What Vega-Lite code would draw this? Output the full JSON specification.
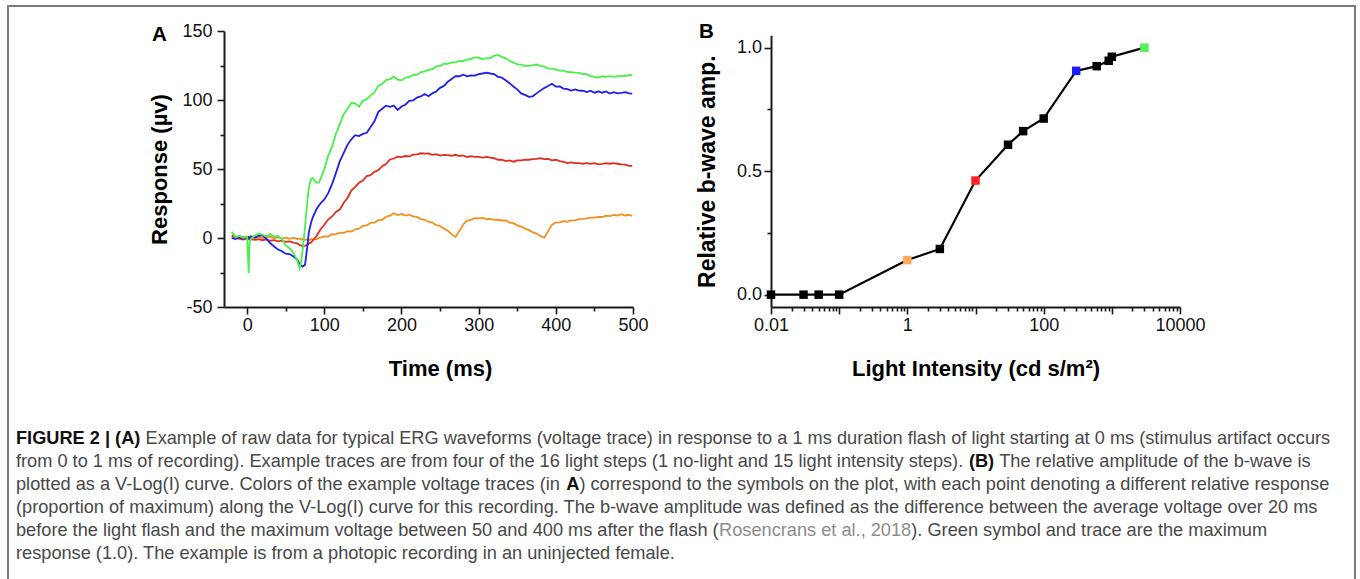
{
  "$schema": "https://vega.github.io/schema/vega-lite/v6.json",
  "width": 1347,
  "height": 600,
  "autosize": {"type": "none"},
  "padding": {"left": 8, "top": 6, "right": 5, "bottom": 0},
  "background": "white",
  "config": {
    "font": "Liberation Sans",
    "view": {"stroke": "#7a7a7a", "strokeWidth": 2},
    "axis": {"grid": false, "domainColor": "#1a1a1a", "domainWidth": 2, "tickColor": "#1a1a1a", "tickWidth": 1.6, "labelFont": "Liberation Sans", "labelFontSize": 18, "labelColor": "#111111", "titleFont": "Liberation Sans", "titleFontSize": 22, "titleFontWeight": "bold", "titleColor": "#000000", "labelFlush": false, "labelOverlap": false}
  },
  "layer": [
    {
      "data": {"values": [
        {"t":-20,"o":2.0,"r":1.5,"b":0.0,"g":4.5},
        {"t":-15,"o":1.2,"r":0.3,"b":-0.8,"g":0.5},
        {"t":-10,"o":0.4,"r":-0.6,"b":0.6,"g":1.6},
        {"t":-5,"o":0.9,"r":-1.2,"b":-0.4,"g":0.2},
        {"t":0,"o":0.3,"r":-0.4,"b":0.6,"g":0.8},
        {"t":1,"o":-0.2,"r":-1.0,"b":0.1,"g":-12},
        {"t":2,"o":0.5,"r":-0.6,"b":0.7,"g":-25.5},
        {"t":3,"o":0.1,"r":-1.1,"b":0.0,"g":-4},
        {"t":5,"o":0.6,"r":-0.8,"b":1.2,"g":-0.5},
        {"t":10,"o":-0.3,"r":-1.4,"b":0.4,"g":1.8},
        {"t":15,"o":0.8,"r":-0.9,"b":1.6,"g":3.2},
        {"t":20,"o":0.0,"r":-1.6,"b":1.9,"g":2.2},
        {"t":25,"o":0.4,"r":-1.0,"b":-0.6,"g":1.2},
        {"t":30,"o":0.9,"r":-2.0,"b":-3.8,"g":2.8},
        {"t":35,"o":-0.2,"r":-1.5,"b":-6.2,"g":1.0},
        {"t":40,"o":0.5,"r":-2.4,"b":-8.4,"g":1.5},
        {"t":45,"o":-0.4,"r":-1.9,"b":-9.6,"g":-0.8},
        {"t":50,"o":0.3,"r":-2.8,"b":-11.4,"g":-5.2},
        {"t":55,"o":-0.6,"r":-2.4,"b":-11.6,"g":-7.6},
        {"t":60,"o":0.2,"r":-3.4,"b":-13.4,"g":-10.8},
        {"t":65,"o":-0.7,"r":-3.8,"b":-15.6,"g":-16.4},
        {"t":68,"o":-0.3,"r":-5.2,"b":-19.2,"g":-22},
        {"t":70,"o":-1.2,"r":-5.4,"b":-20.2,"g":-17},
        {"t":72,"o":-0.8,"r":-6.2,"b":-20.8,"g":-8},
        {"t":75,"o":-1.4,"r":-5.6,"b":-19.4,"g":8},
        {"t":78,"o":-0.9,"r":-4.8,"b":-6,"g":27},
        {"t":80,"o":-1.6,"r":-4.0,"b":4.5,"g":37},
        {"t":83,"o":-0.8,"r":-3.2,"b":11.5,"g":43},
        {"t":85,"o":-1.3,"r":-1.8,"b":15,"g":43.5},
        {"t":88,"o":-0.7,"r":0.2,"b":18.5,"g":41.2},
        {"t":90,"o":-1.0,"r":1.6,"b":21,"g":40},
        {"t":93,"o":0.2,"r":4.4,"b":23.5,"g":40.3},
        {"t":95,"o":0.3,"r":6.2,"b":25,"g":42.8},
        {"t":100,"o":1.2,"r":9.6,"b":28,"g":50},
        {"t":105,"o":1.0,"r":13.4,"b":32.5,"g":59.5},
        {"t":110,"o":2.8,"r":15.6,"b":39,"g":66},
        {"t":115,"o":2.6,"r":18.9,"b":47,"g":75.5},
        {"t":120,"o":3.9,"r":20.6,"b":55.5,"g":82.5},
        {"t":125,"o":3.6,"r":25.4,"b":61.5,"g":89.5},
        {"t":130,"o":4.9,"r":29.0,"b":67.5,"g":93.5},
        {"t":135,"o":4.7,"r":34.4,"b":71.5,"g":97.8},
        {"t":140,"o":6.3,"r":37.1,"b":74.5,"g":97.6},
        {"t":145,"o":6.8,"r":40.0,"b":73.8,"g":95.2},
        {"t":150,"o":8.8,"r":41.6,"b":75.4,"g":99.4},
        {"t":155,"o":9.2,"r":44.9,"b":76.2,"g":100.6},
        {"t":160,"o":10.9,"r":45.6,"b":80.4,"g":103.4},
        {"t":165,"o":11.2,"r":48.0,"b":84.6,"g":105.6},
        {"t":170,"o":12.9,"r":49.1,"b":91.4,"g":110.4},
        {"t":175,"o":13.2,"r":52.0,"b":93.6,"g":111.6},
        {"t":180,"o":15.4,"r":53.6,"b":95.9,"g":114.4},
        {"t":185,"o":16.2,"r":56.9,"b":95.1,"g":115.1},
        {"t":190,"o":17.9,"r":57.6,"b":96.0,"g":116.9},
        {"t":195,"o":16.6,"r":58.9,"b":92.8,"g":114.8},
        {"t":200,"o":17.4,"r":58.6,"b":95.3,"g":114.2},
        {"t":205,"o":16.2,"r":59.4,"b":96.6,"g":116.3},
        {"t":210,"o":16.9,"r":59.1,"b":99.3,"g":116.7},
        {"t":215,"o":15.7,"r":60.4,"b":99.7,"g":118.3},
        {"t":220,"o":15.3,"r":60.6,"b":101.8,"g":118.2},
        {"t":225,"o":13.7,"r":61.4,"b":102.6,"g":120.3},
        {"t":230,"o":13.2,"r":61.1,"b":104.3,"g":120.7},
        {"t":235,"o":11.8,"r":61.3,"b":102.7,"g":121.8},
        {"t":240,"o":11.2,"r":60.2,"b":104.8,"g":122.3},
        {"t":245,"o":9.3,"r":60.8,"b":106.2,"g":124.3},
        {"t":250,"o":8.7,"r":59.7,"b":108.8,"g":124.7},
        {"t":255,"o":6.8,"r":60.3,"b":110.2,"g":126.3},
        {"t":260,"o":5.2,"r":60.1,"b":113.3,"g":126.2},
        {"t":265,"o":2.8,"r":59.6,"b":115.2,"g":127.3},
        {"t":270,"o":0.8,"r":60.3,"b":117.3,"g":127.2},
        {"t":275,"o":5.0,"r":59.3,"b":117.2,"g":128.3},
        {"t":280,"o":9.8,"r":59.8,"b":118.3,"g":128.2},
        {"t":285,"o":12.6,"r":58.7,"b":117.2,"g":129.3},
        {"t":290,"o":13.2,"r":59.3,"b":117.8,"g":129.7},
        {"t":295,"o":14.3,"r":58.8,"b":117.7,"g":130.8},
        {"t":300,"o":14.2,"r":58.8,"b":118.8,"g":130.7},
        {"t":305,"o":14.8,"r":58.2,"b":119.2,"g":129.7},
        {"t":310,"o":13.7,"r":58.8,"b":119.8,"g":130.3},
        {"t":315,"o":13.8,"r":58.2,"b":119.2,"g":130.2},
        {"t":320,"o":13.2,"r":57.8,"b":118.8,"g":132.2},
        {"t":325,"o":13.3,"r":56.7,"b":116.8,"g":132.6},
        {"t":330,"o":12.7,"r":56.8,"b":116.2,"g":131.3},
        {"t":335,"o":12.8,"r":55.7,"b":114.3,"g":130.2},
        {"t":340,"o":11.2,"r":56.2,"b":112.2,"g":128.3},
        {"t":345,"o":10.8,"r":55.3,"b":109.8,"g":127.2},
        {"t":350,"o":9.2,"r":56.3,"b":107.7,"g":125.8},
        {"t":355,"o":8.3,"r":56.2,"b":104.8,"g":125.7},
        {"t":360,"o":6.8,"r":56.8,"b":103.7,"g":124.8},
        {"t":365,"o":5.7,"r":56.7,"b":102.3,"g":124.7},
        {"t":370,"o":4.2,"r":57.2,"b":102.7,"g":125.2},
        {"t":375,"o":3.2,"r":57.3,"b":104.8,"g":125.7},
        {"t":380,"o":1.3,"r":57.8,"b":106.8,"g":124.8},
        {"t":385,"o":0.2,"r":57.2,"b":108.7,"g":124.2},
        {"t":390,"o":4.8,"r":57.3,"b":110.2,"g":122.8},
        {"t":395,"o":9.7,"r":56.3,"b":111.8,"g":122.7},
        {"t":400,"o":11.2,"r":56.7,"b":109.7,"g":122.2},
        {"t":405,"o":11.3,"r":55.7,"b":109.8,"g":121.3},
        {"t":410,"o":12.2,"r":55.2,"b":108.3,"g":121.2},
        {"t":415,"o":11.8,"r":54.3,"b":107.8,"g":120.3},
        {"t":420,"o":12.7,"r":54.8,"b":106.8,"g":120.2},
        {"t":425,"o":12.8,"r":54.2,"b":107.7,"g":119.8},
        {"t":430,"o":13.7,"r":54.3,"b":106.8,"g":119.7},
        {"t":435,"o":13.8,"r":53.8,"b":106.7,"g":118.8},
        {"t":440,"o":14.2,"r":54.2,"b":105.8,"g":118.7},
        {"t":445,"o":14.7,"r":53.7,"b":106.7,"g":117.3},
        {"t":450,"o":14.8,"r":54.3,"b":105.3,"g":116.7},
        {"t":455,"o":15.3,"r":53.3,"b":106.2,"g":116.3},
        {"t":460,"o":15.2,"r":53.7,"b":105.3,"g":117.2},
        {"t":465,"o":16.2,"r":54.2,"b":106.2,"g":116.8},
        {"t":470,"o":15.8,"r":53.8,"b":104.7,"g":117.3},
        {"t":475,"o":16.7,"r":54.2,"b":105.7,"g":116.8},
        {"t":480,"o":16.3,"r":53.8,"b":104.8,"g":117.2},
        {"t":485,"o":17.2,"r":53.3,"b":105.2,"g":117.7},
        {"t":490,"o":16.3,"r":53.2,"b":105.7,"g":117.3},
        {"t":495,"o":16.8,"r":52.3,"b":104.8,"g":118.2},
        {"t":499,"o":16.0,"r":52.2,"b":104.6,"g":117.9}
      ]},
      "layer": [
        {
          "transform": [{"fold": ["o", "r", "b"], "as": ["trace", "v"]}],
          "mark": {"type": "line", "strokeWidth": 1.8},
          "encoding": {
            "x": {"field": "t", "type": "quantitative", "scale": {"domain": [-30, 500], "range": [216, 625], "nice": false, "zero": false},
                  "axis": {"orient": "bottom", "offset": -299, "values": [0, 100, 200, 300, 400, 500], "tickSize": 7, "labelPadding": 2, "title": "Time (ms)", "titlePadding": 24, "titleX": 432}},
            "y": {"field": "v", "type": "quantitative", "scale": {"domain": [-50, 150], "range": [301, 25], "nice": false, "zero": false},
                  "axis": {"orient": "left", "offset": -216, "values": [-50, 0, 50, 100, 150], "labelExpr": "datum.value < 0 ? '-' + abs(datum.value) : datum.label", "tickSize": 7, "labelPadding": 5, "title": "Response (µv)", "titlePadding": 10}},
            "color": {"field": "trace", "type": "nominal", "scale": {"domain": ["o", "r", "b", "g"], "range": ["#f0901e", "#e02e1e", "#1e1ef0", "#48f048"]}, "legend": null}
          }
        },
        {
          "transform": [{"fold": ["g"], "as": ["trace", "v"]}],
          "mark": {"type": "line", "strokeWidth": 1.8},
          "encoding": {
            "x": {"field": "t", "type": "quantitative", "scale": {"domain": [-30, 500], "range": [216, 625], "nice": false, "zero": false},
                  "axis": {"orient": "bottom", "offset": -299, "values": [50, 150, 250, 350, 450], "tickSize": 4, "labels": false, "domain": false, "title": null}},
            "y": {"field": "v", "type": "quantitative", "scale": {"domain": [-50, 150], "range": [301, 25], "nice": false, "zero": false},
                  "axis": {"orient": "left", "offset": -216, "values": [-25, 25, 75, 125], "tickSize": 4, "labels": false, "domain": false, "title": null}},
            "color": {"field": "trace", "type": "nominal", "scale": {"domain": ["o", "r", "b", "g"], "range": ["#f0901e", "#e02e1e", "#1e1ef0", "#48f048"]}, "legend": null}
          }
        },
        {
          "data": {"values": [{"panel": "A"}]},
          "mark": {"type": "text", "fontSize": 20.5, "fontWeight": "bold", "align": "left", "baseline": "middle", "dx": -72, "dy": 3.5, "color": "#000000"},
          "encoding": {
            "x": {"datum": -30, "type": "quantitative", "scale": {"domain": [-30, 500], "range": [216, 625], "nice": false, "zero": false}, "axis": null},
            "y": {"datum": 150, "type": "quantitative", "scale": {"domain": [-50, 150], "range": [301, 25], "nice": false, "zero": false}, "axis": null},
            "text": {"field": "panel"}
          }
        }
      ],
      "resolve": {"axis": {"x": "independent", "y": "independent"}}
    },
    {
      "data": {"values": [
        {"I": 0.01, "amp": 0, "trace": "none"},
        {"I": 0.03, "amp": 0, "trace": "none"},
        {"I": 0.05, "amp": 0, "trace": "none"},
        {"I": 0.1, "amp": 0, "trace": "none"},
        {"I": 1, "amp": 0.14, "trace": "orange"},
        {"I": 3, "amp": 0.185, "trace": "none"},
        {"I": 10, "amp": 0.462, "trace": "red"},
        {"I": 30, "amp": 0.607, "trace": "none"},
        {"I": 50, "amp": 0.662, "trace": "none"},
        {"I": 100, "amp": 0.713, "trace": "none"},
        {"I": 300, "amp": 0.906, "trace": "blue"},
        {"I": 600, "amp": 0.925, "trace": "none"},
        {"I": 900, "amp": 0.947, "trace": "none"},
        {"I": 1000, "amp": 0.963, "trace": "none"},
        {"I": 3000, "amp": 1.0, "trace": "green"}
      ]},
      "layer": [
        {
          "mark": {"type": "line", "color": "#000000", "strokeWidth": 2.2},
          "encoding": {
            "x": {"field": "I", "type": "quantitative", "scale": {"type": "log", "domain": [0.01, 10000], "range": [763, 1172], "nice": false},
                  "axis": {"orient": "bottom", "offset": -299, "values": [0.01, 0.1, 1, 10, 100, 1000, 10000], "labelExpr": "datum.value < 0.05 ? '0.01' : datum.value == 1 ? '1' : datum.value == 100 ? '100' : datum.value == 10000 ? '10000' : ''", "tickSize": 7, "labelPadding": 2, "title": "Light Intensity (cd s/m²)", "titlePadding": 24}},
            "y": {"field": "amp", "type": "quantitative", "scale": {"domain": [-0.05, 1.05], "range": [301, 29.3], "nice": false, "zero": false},
                  "axis": {"orient": "left", "offset": -763, "values": [0, 0.5, 1], "format": ".1f", "tickSize": 7, "labelPadding": 2.5, "title": "Relative b-wave amp.", "titleFontSize": 23, "titlePadding": 17}}
          }
        },
        {
          "mark": {"type": "point", "shape": "square", "filled": true, "size": 72, "opacity": 1},
          "encoding": {
            "x": {"field": "I", "type": "quantitative", "scale": {"type": "log", "domain": [0.01, 10000], "range": [763, 1172], "nice": false},
                  "axis": {"orient": "bottom", "offset": -299, "values": [0.02,0.03,0.04,0.05,0.06,0.07,0.08,0.09,0.2,0.3,0.4,0.5,0.6,0.7,0.8,0.9,2,3,4,5,6,7,8,9,20,30,40,50,60,70,80,90,200,300,400,500,600,700,800,900,2000,3000,4000,5000,6000,7000,8000,9000], "tickSize": 4, "labels": false, "domain": false, "title": null}},
            "y": {"field": "amp", "type": "quantitative", "scale": {"domain": [-0.05, 1.05], "range": [301, 29.3], "nice": false, "zero": false},
                  "axis": {"orient": "left", "offset": -763, "values": [0.25, 0.75], "tickSize": 4, "labels": false, "domain": false, "title": null}},
            "color": {"field": "trace", "type": "nominal", "scale": {"domain": ["none", "orange", "red", "blue", "green"], "range": ["#000000", "#ffa95c", "#ff2323", "#1a1aff", "#55f055"]}, "legend": null}
          }
        },
        {
          "data": {"values": [{"panel": "B"}]},
          "mark": {"type": "text", "fontSize": 20.5, "fontWeight": "bold", "align": "left", "baseline": "middle", "dx": -72, "dy": -3, "color": "#000000"},
          "encoding": {
            "x": {"datum": 0.01, "type": "quantitative", "scale": {"type": "log", "domain": [0.01, 10000], "range": [763, 1172], "nice": false}, "axis": null},
            "y": {"datum": 1.05, "type": "quantitative", "scale": {"domain": [-0.05, 1.05], "range": [301, 29.3], "nice": false, "zero": false}, "axis": null},
            "text": {"field": "panel"}
          }
        }
      ],
      "resolve": {"axis": {"x": "independent", "y": "independent"}}
    },
    {
      "data": {"values": [
        {"seg": "1a", "line": 1, "text": "FIGURE 2 | (A)"},
        {"seg": "1b", "line": 1, "text": "Example of raw data for typical ERG waveforms (voltage trace) in response to a 1 ms duration flash of light starting at 0 ms (stimulus artifact occurs"},
        {"seg": "2a", "line": 2, "text": "from 0 to 1 ms of recording). Example traces are from four of the 16 light steps (1 no-light and 15 light intensity steps)."},
        {"seg": "2b", "line": 2, "text": "(B)"},
        {"seg": "2c", "line": 2, "text": "The relative amplitude of the b-wave is"},
        {"seg": "3a", "line": 3, "text": "plotted as a V-Log(I) curve. Colors of the example voltage traces (in"},
        {"seg": "3b", "line": 3, "text": "A"},
        {"seg": "3c", "line": 3, "text": ") correspond to the symbols on the plot, with each point denoting a different relative response"},
        {"seg": "4a", "line": 4, "text": "(proportion of maximum) along the V-Log(I) curve for this recording. The b-wave amplitude was defined as the difference between the average voltage over 20 ms"},
        {"seg": "5a", "line": 5, "text": "before the light flash and the maximum voltage between 50 and 400 ms after the flash ("},
        {"seg": "5b", "line": 5, "text": "Rosencrans et al., 2018"},
        {"seg": "5c", "line": 5, "text": "). Green symbol and trace are the maximum"},
        {"seg": "6a", "line": 6, "text": "response (1.0). The example is from a photopic recording in an uninjected female."}
      ]},
      "encoding": {
        "x": {"datum": 0, "type": "quantitative", "scale": {"domain": [0, 1], "range": [8, 1340]}, "axis": null},
        "y": {"field": "line", "type": "quantitative", "scale": {"domain": [1, 6], "range": [433, 548], "nice": false, "zero": false}, "axis": null},
        "text": {"field": "text"}
      },
      "layer": [
        {"transform": [{"filter": {"field": "seg", "oneOf": ["2a", "3a", "4a", "5a", "6a"]}}],
         "mark": {"type": "text", "align": "left", "baseline": "middle", "fontSize": 18.2, "color": "#484848"}},
        {"transform": [{"filter": {"field": "seg", "equal": "1a"}}],
         "mark": {"type": "text", "align": "left", "baseline": "middle", "fontSize": 18.2, "fontWeight": "bold", "color": "#111111"}},
        {"transform": [{"filter": {"field": "seg", "equal": "1b"}}],
         "mark": {"type": "text", "align": "left", "baseline": "middle", "fontSize": 18.2, "color": "#484848", "dx": 129.5}},
        {"transform": [{"filter": {"field": "seg", "equal": "2b"}}],
         "mark": {"type": "text", "align": "left", "baseline": "middle", "fontSize": 18.2, "fontWeight": "bold", "color": "#111111", "dx": 952.9}},
        {"transform": [{"filter": {"field": "seg", "equal": "2c"}}],
         "mark": {"type": "text", "align": "left", "baseline": "middle", "fontSize": 18.2, "color": "#484848", "dx": 983.2}},
        {"transform": [{"filter": {"field": "seg", "equal": "3b"}}],
         "mark": {"type": "text", "align": "left", "baseline": "middle", "fontSize": 18.2, "fontWeight": "bold", "color": "#111111", "dx": 550.3}},
        {"transform": [{"filter": {"field": "seg", "equal": "3c"}}],
         "mark": {"type": "text", "align": "left", "baseline": "middle", "fontSize": 18.2, "color": "#484848", "dx": 563.4}},
        {"transform": [{"filter": {"field": "seg", "equal": "5b"}}],
         "mark": {"type": "text", "align": "left", "baseline": "middle", "fontSize": 18.2, "color": "#8c8c8c", "dx": 703.1}},
        {"transform": [{"filter": {"field": "seg", "equal": "5c"}}],
         "mark": {"type": "text", "align": "left", "baseline": "middle", "fontSize": 18.2, "color": "#484848", "dx": 895.3}}
      ]
    }
  ],
  "resolve": {"scale": {"x": "independent", "y": "independent", "color": "independent"}}
}
